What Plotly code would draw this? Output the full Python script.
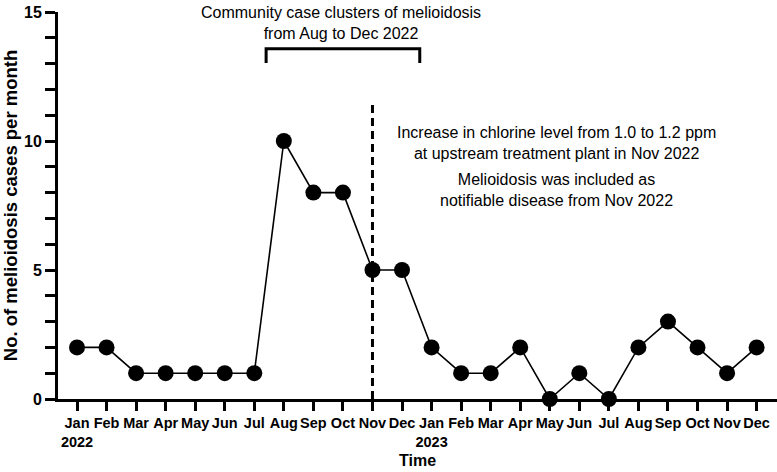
import plotly.graph_objects as go

months = ["Jan", "Feb", "Mar", "Apr", "May", "Jun", "Jul", "Aug", "Sep", "Oct", "Nov", "Dec"]
tick_labels = ["Jan<br>2022"] + months[1:] + ["Jan<br>2023"] + months[1:]
cases = [2, 2, 1, 1, 1, 1, 1, 10, 8, 8, 5, 5,
         2, 1, 1, 2, 0, 1, 0, 2, 3, 2, 1, 2]
x_idx = list(range(len(cases)))
y_tickvals = list(range(0, 16))
y_ticktext = [str(v) if v % 5 == 0 else "" for v in y_tickvals]

FONT = "Liberation Sans, Arial, sans-serif"

fig = go.Figure()
fig.add_trace(go.Scatter(
    x=x_idx, y=cases, mode="lines+markers",
    line=dict(color="black", width=1.6),
    marker=dict(color="black", size=16),
    cliponaxis=False, showlegend=False,
))

# dashed vertical line at Nov 2022
fig.add_shape(type="line", x0=10, x1=10, y0=0, y1=11.45, xref="x", yref="y",
              line=dict(color="black", width=3, dash="8px,5px"))

# bracket Aug–Dec 2022
bx0, bx1, by_top, by_bot = 6.4, 11.6, 13.58, 13.02
fig.add_shape(type="path",
              path=f"M {bx0},{by_bot} L {bx0},{by_top} L {bx1},{by_top} L {bx1},{by_bot}",
              xref="x", yref="y", line=dict(color="black", width=3))

fig.add_annotation(x=8.92, y=14.58, xref="x", yref="y", showarrow=False,
                   text="Community case clusters of melioidosis<br>from Aug to Dec 2022",
                   font=dict(family=FONT, size=16, color="black"), align="center")
fig.add_annotation(x=16.23, y=9.93, xref="x", yref="y", showarrow=False,
                   text="Increase in chlorine level from 1.0 to 1.2 ppm<br>at upstream treatment plant in Nov 2022",
                   font=dict(family=FONT, size=16, color="black"), align="center")
fig.add_annotation(x=16.23, y=8.12, xref="x", yref="y", showarrow=False,
                   text="Melioidosis was included as<br>notifiable disease from Nov 2022",
                   font=dict(family=FONT, size=16, color="black"), align="center")

fig.update_layout(
    width=777, height=472,
    margin=dict(l=58, r=0, t=12, b=73),
    plot_bgcolor="white", paper_bgcolor="white",
    font=dict(family=FONT, color="black"),
    xaxis=dict(
        range=[-0.643, 23.69], tickmode="array", tickvals=x_idx, ticktext=tick_labels,
        tickangle=0,
        showline=True, linecolor="black", linewidth=3,
        ticks="outside", ticklen=9, tickwidth=2.5, tickcolor="black",
        showgrid=False, zeroline=False,
        tickfont=dict(family=FONT, size=14.5, weight="bold"),
        title=dict(text="Time", font=dict(family=FONT, size=16, weight="bold"), standoff=6),
    ),
    yaxis=dict(
        range=[0, 15], tickmode="array", tickvals=y_tickvals, ticktext=y_ticktext,
        showline=True, linecolor="black", linewidth=3,
        ticks="outside", ticklen=10, tickwidth=2.5, tickcolor="black",
        showgrid=False, zeroline=False,
        tickfont=dict(family=FONT, size=16, weight="bold"),
        title=dict(text="No. of melioidosis cases per month",
                   font=dict(family=FONT, size=18.5, weight="bold"), standoff=4),
    ),
)

fig.write_html("out.html")
